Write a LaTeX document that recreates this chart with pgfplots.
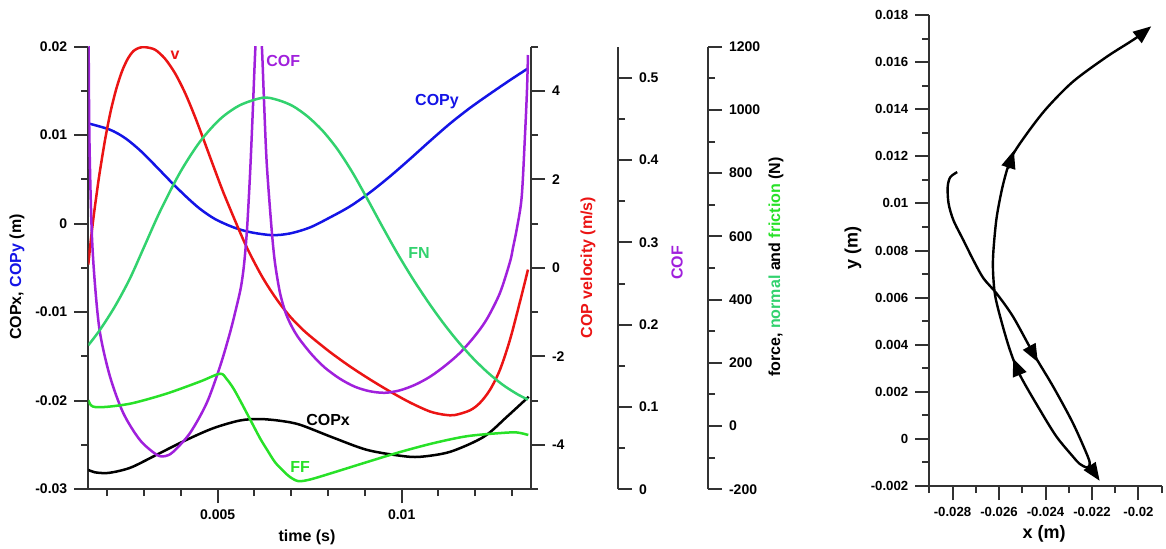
\documentclass[border=0pt]{standalone}
\usepackage{fontspec}
\setmainfont{Liberation Sans}
\usepackage{pgfplots}
\pgfplotsset{compat=1.18}
\usetikzlibrary{arrows.meta}

\definecolor{cRed}{RGB}{235,20,20}
\definecolor{cBlue}{RGB}{20,20,230}
\definecolor{cPur}{RGB}{160,32,220}
\definecolor{cFN}{RGB}{50,210,110}
\definecolor{cFF}{RGB}{40,225,40}
\definecolor{axgray}{RGB}{50,50,50}

\pgfplotsset{
  tk/.style={
    scale only axis,
    /pgf/number format/assume math mode=true,
    /pgf/number format/set thousands separator={},
    tick label style={font=\bfseries\fontsize{7}{8}\selectfont, text=black},
    axis line style={line width=1pt, axgray, -},
    tick style={line width=1pt, axgray},
    major tick length=7pt, minor tick length=3.5pt,
    tick align=outside,
    scaled ticks=false,
  },
  base/.style={
    tk,
    width=221.35pt, height=221.15pt,
    at={(44.15pt,29.5pt)}, anchor=south west,
    xmin=0.001484, xmax=0.013514,
    every axis plot/.append style={line width=1.25pt, smooth},
  },
  side/.style={
    tk,
    width=1pt, height=221.3pt,
    anchor=south east,
    xmin=0, xmax=1,
    axis x line=none, axis y line*=right,
  },
}

\begin{document}
\begin{tikzpicture}
\useasboundingbox (0pt,0pt) rectangle (583pt,274pt);

% left axis: COPx, COPy
\begin{axis}[base,
  axis x line*=bottom, axis y line*=left,
  ymin=-0.03, ymax=0.02,
  xtick={0.005,0.01},
  minor xtick={0.002,0.003,0.004,0.006,0.007,0.008,0.009,0.011,0.012,0.013},
  ytick={-0.03,-0.02,-0.01,0,0.01,0.02},
  minor ytick={-0.025,-0.015,-0.005,0.005,0.015},
  xticklabel style={/pgf/number format/fixed,/pgf/number format/precision=3},
  yticklabel style={/pgf/number format/fixed,/pgf/number format/precision=2},
]
\addplot[cBlue] coordinates {
  (0.001503,0.01131) (0.002073,0.01062) (0.002481,0.00968) (0.002889,0.00829)
  (0.003296,0.00660) (0.003785,0.00450) (0.004166,0.00296) (0.004519,0.00167)
  (0.004927,0.00052) (0.005416,-0.00040) (0.005878,-0.00096) (0.006476,-0.00130)
  (0.006965,-0.00111) (0.007508,-0.00043) (0.008052,0.00070) (0.008595,0.00195)
  (0.009139,0.00353) (0.009682,0.00534) (0.010226,0.00731) (0.010769,0.00934)
  (0.011313,0.01131) (0.011856,0.01308) (0.012400,0.01468) (0.012943,0.01622)
  (0.013432,0.01755)
};
\addplot[black] coordinates {
  (0.00148,-0.02783) (0.00166,-0.02811) (0.00198,-0.02820) (0.00234,-0.02794)
  (0.00271,-0.02745) (0.00343,-0.02594) (0.00416,-0.02443) (0.00489,-0.02311)
  (0.00561,-0.02225) (0.00615,-0.02209) (0.00670,-0.02229) (0.00724,-0.02274)
  (0.00815,-0.02421) (0.00905,-0.02557) (0.00996,-0.02624) (0.01050,-0.02636)
  (0.01132,-0.02579) (0.01223,-0.02410) (0.01286,-0.02183) (0.01345,-0.01957)
};
\node[cRed, font=\bfseries\fontsize{8}{9}\selectfont] at (axis cs:0.00384,0.0190) {v};
\node[cPur, font=\bfseries\fontsize{8}{9}\selectfont] at (axis cs:0.00678,0.01844) {COF};
\node[cBlue, font=\bfseries\fontsize{8}{9}\selectfont] at (axis cs:0.01096,0.0138) {COPy};
\node[cFN, font=\bfseries\fontsize{8}{9}\selectfont] at (axis cs:0.01047,-0.00328) {FN};
\node[black, font=\bfseries\fontsize{8}{9}\selectfont] at (axis cs:0.00800,-0.02217) {COPx};
\node[cFF, font=\bfseries\fontsize{8}{9}\selectfont] at (axis cs:0.00724,-0.02755) {FF};
\end{axis}

% COP velocity (right axis of the box)
\begin{axis}[base,
  axis x line=none, axis y line*=right,
  ymin=-5, ymax=5,
  ytick={-4,-2,0,2,4},
  minor ytick={-5,-3,-1,1,3,5},
]
\addplot[cRed] coordinates {
  (0.001484,0.075) (0.001555,0.641) (0.001630,1.171) (0.001709,1.660) (0.001785,2.109)
  (0.001940,2.899) (0.002095,3.552) (0.002250,4.063) (0.002405,4.455) (0.002560,4.732)
  (0.002715,4.906) (0.002870,4.975) (0.003024,4.990) (0.003296,4.933) (0.003568,4.729)
  (0.003840,4.401) (0.004111,3.959) (0.004383,3.416) (0.004655,2.815) (0.004927,2.204)
  (0.005198,1.615) (0.005742,0.550) (0.006149,-0.113) (0.006421,-0.487) (0.006693,-0.815)
  (0.006965,-1.099) (0.007236,-1.336) (0.007508,-1.540) (0.008052,-1.903) (0.008595,-2.229)
  (0.009139,-2.523) (0.009682,-2.795) (0.010226,-3.044) (0.010769,-3.248) (0.011177,-3.323)
  (0.011448,-3.327) (0.011856,-3.221) (0.012128,-3.051) (0.012400,-2.757) (0.012671,-2.303)
  (0.012943,-1.624) (0.013215,-0.763) (0.013432,-0.039)
};
\end{axis}

% COF data
\begin{axis}[base, hide axis, ymin=0, ymax=0.5378]
\addplot[cPur] coordinates {
  (0.001484,0.62) (0.001511,0.4366) (0.001576,0.3151) (0.001666,0.2482) (0.001802,0.1899)
  (0.002073,0.1368) (0.002435,0.0923) (0.002889,0.0595) (0.003342,0.0417) (0.003568,0.0399)
  (0.003793,0.0453) (0.004247,0.0680) (0.004701,0.1045) (0.005063,0.1490) (0.005334,0.1899)
  (0.005524,0.2239) (0.005633,0.2458) (0.005715,0.2725) (0.005796,0.3151) (0.005878,0.3819)
  (0.005946,0.4512) (0.006000,0.5119) (0.006041,0.5520) (0.006109,0.60) (0.006190,0.5460)
  (0.006217,0.5216) (0.006258,0.4730) (0.006332,0.3965) (0.006467,0.3151) (0.006557,0.2750)
  (0.006693,0.2385) (0.006856,0.2130) (0.007046,0.1948) (0.007236,0.1814) (0.007563,0.1632)
  (0.007916,0.1474) (0.008324,0.1340) (0.008731,0.1243) (0.009139,0.1188) (0.009546,0.1170)
  (0.009954,0.1200) (0.010362,0.1267) (0.010769,0.1365) (0.011177,0.1498) (0.011585,0.1656)
  (0.011992,0.1863) (0.012318,0.2069) (0.012671,0.2385) (0.012943,0.2762) (0.013024,0.2932)
  (0.013133,0.3175) (0.013261,0.3552) (0.013351,0.4305) (0.013405,0.4852) (0.013432,0.5277)
};
\end{axis}

% force data
\begin{axis}[base, hide axis, ymin=-200, ymax=1200]
\addplot[cFN] coordinates {
  (0.001484,255.0) (0.001802,304.0) (0.002209,378.2) (0.002617,466.7) (0.003024,572.5)
  (0.003432,678.4) (0.003976,801.6) (0.004519,899.5) (0.005063,970.6) (0.005606,1014.9)
  (0.006231,1038.6) (0.006625,1031.6) (0.007033,1012.7) (0.007440,979.5) (0.007848,934.3)
  (0.008256,875.2) (0.008664,801.6) (0.009071,717.2) (0.009479,629.7) (0.009886,545.3)
  (0.010294,467.0) (0.010701,395.0) (0.011109,328.6) (0.011517,268.6) (0.011924,215.5)
  (0.012332,169.4) (0.012739,130.5) (0.013147,99.8) (0.013432,83.1)
};
\addplot[cFF] coordinates {
  (0.001484,81) (0.001557,65) (0.001693,59) (0.002073,61) (0.002698,72)
  (0.003614,102) (0.004519,140) (0.005063,165) (0.005245,148) (0.005424,119)
  (0.005606,81) (0.005878,21) (0.006149,-39) (0.006332,-74) (0.006557,-115)
  (0.006783,-143) (0.006965,-162) (0.007190,-175) (0.007508,-170) (0.008141,-148)
  (0.009049,-115) (0.009954,-83) (0.010859,-55) (0.011766,-33) (0.012671,-23)
  (0.013125,-21) (0.013440,-29)
};
\end{axis}

% COF scale
\begin{axis}[side, at={(309pt,29.35pt)},
  ymin=0, ymax=0.5378,
  ytick={0,0.1,0.2,0.3,0.4,0.5},
  minor ytick={0.05,0.15,0.25,0.35,0.45},
  yticklabel style={/pgf/number format/fixed,/pgf/number format/precision=1},
]
\end{axis}

% force scale
\begin{axis}[side, at={(354pt,29.35pt)},
  ymin=-200, ymax=1200,
  ytick={-200,0,200,400,600,800,1000,1200},
  minor ytick={-100,100,300,500,700,900,1100},
]
\end{axis}

% trajectory
\begin{axis}[tk,
  width=116.2pt, height=235.5pt,
  at={(464.65pt,31pt)}, anchor=south west,
  axis x line*=bottom, axis y line*=left,
  xmin=-0.029, xmax=-0.019, ymin=-0.002, ymax=0.018,
  xtick={-0.028,-0.026,-0.024,-0.022,-0.02},
  minor xtick={-0.029,-0.027,-0.025,-0.023,-0.021,-0.019},
  ytick={-0.002,0,0.002,0.004,0.006,0.008,0.01,0.012,0.014,0.016,0.018},
  minor ytick={-0.001,0.001,0.003,0.005,0.007,0.009,0.011,0.013,0.015,0.017},
  tick label style={font=\bfseries\fontsize{6.6}{7.5}\selectfont},
  xticklabel style={/pgf/number format/fixed,/pgf/number format/precision=3},
  yticklabel style={/pgf/number format/fixed,/pgf/number format/precision=3},
  clip=false,
]
\addplot[black, line width=1.2pt, smooth] coordinates {
  (-0.02780,0.01133) (-0.02810,0.01111) (-0.02821,0.01069) (-0.02817,0.00999)
  (-0.02796,0.00928) (-0.02753,0.00843) (-0.02710,0.00758) (-0.02667,0.00682)
  (-0.02610,0.00617) (-0.02539,0.00518) (-0.02453,0.00364) (-0.02367,0.00222)
  (-0.02282,0.00067) (-0.02218,-0.00075) (-0.02210,-0.00110) (-0.02223,-0.00121)
  (-0.02253,-0.00106) (-0.02282,-0.00075) (-0.02353,0.00010) (-0.02424,0.00123)
  (-0.02510,0.00271) (-0.02553,0.00377) (-0.02591,0.00504) (-0.02617,0.00610)
  (-0.02626,0.00716) (-0.02624,0.00801) (-0.02610,0.00942) (-0.02582,0.01083)
  (-0.02546,0.01196) (-0.02481,0.01295) (-0.02396,0.01403) (-0.02282,0.01517)
  (-0.02139,0.01621) (-0.02039,0.01684) (-0.01996,0.01712)
};
\addplot[black, line width=1.2pt, -{Triangle[length=9pt,width=7pt]}] coordinates {(-0.02459,0.00373) (-0.02433,0.00326)};
\addplot[black, line width=1.2pt, -{Triangle[length=9pt,width=7pt]}] coordinates {(-0.02514,0.00280) (-0.02540,0.00343)};
\addplot[black, line width=1.2pt, -{Triangle[length=9pt,width=7pt]}] coordinates {(-0.02561,0.01148) (-0.02536,0.01225)};
\addplot[black, line width=1.2pt, -{Triangle[length=9pt,width=7pt]}] coordinates {(-0.01996,0.01712) (-0.01945,0.01752)};
\addplot[black, line width=1.2pt, -{Triangle[length=9pt,width=7pt]}] coordinates {(-0.02193,-0.00140) (-0.02167,-0.00178)};
\end{axis}

% axis titles
\node[rotate=90, font=\bfseries\fontsize{8}{9}\selectfont] at (8.5pt,135.5pt) {COPx, \textcolor{cBlue}{COPy} (m)};
\node[font=\bfseries\fontsize{8}{9}\selectfont] at (153.5pt,5.5pt) {time (s)};
\node[rotate=90, cRed, font=\bfseries\fontsize{8}{9}\selectfont] at (294pt,140.25pt) {COP velocity (m/s)};
\node[rotate=90, cPur, font=\bfseries\fontsize{8}{9}\selectfont] at (338.5pt,142.5pt) {COF};
\node[rotate=90, font=\bfseries\fontsize{8}{9}\selectfont] at (388pt,140.5pt) {force, \textcolor{cFN}{normal} and \textcolor{cFF}{friction} (N)};
\node[rotate=90, font=\bfseries\fontsize{9}{10}\selectfont] at (426.5pt,150pt) {y (m)};
\node[font=\bfseries\fontsize{9}{10}\selectfont] at (522pt,7pt) {x (m)};
\end{tikzpicture}
\end{document}
